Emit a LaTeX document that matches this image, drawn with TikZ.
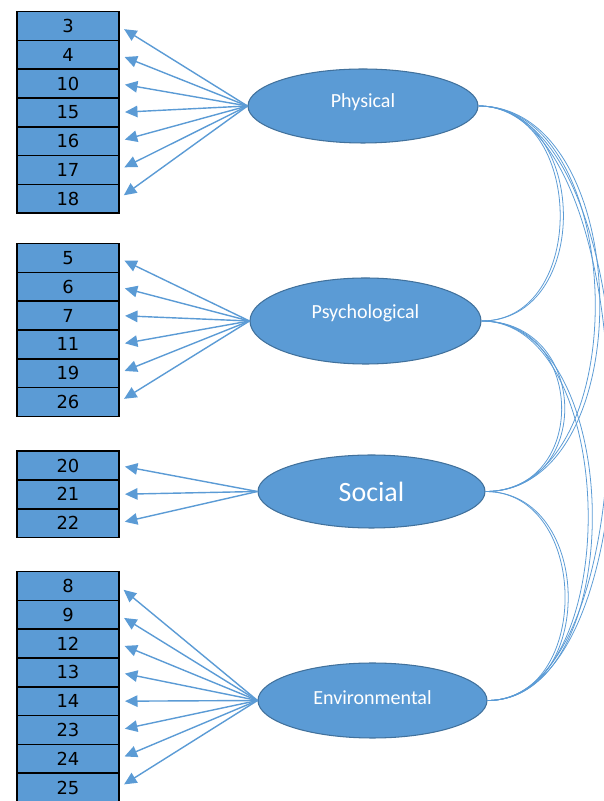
\documentclass[tikz,border=0pt]{standalone}
\usepackage{fontspec}
\setmainfont{Carlito}
\newfontfamily\numfont{DejaVu Sans}
\usetikzlibrary{positioning,chains,arrows.meta,shapes.geometric}
\definecolor{semblue}{HTML}{5B9BD5}
\definecolor{semedge}{HTML}{41719C}
\tikzset{%
  >={Triangle[length=2.5mm,width=2.3mm]},
  item/.style={rectangle,draw=black,line width=1pt,fill=semblue,minimum width=2.04cm,
    minimum height=.576cm,inner sep=0pt,outer sep=0pt,font=\numfont\fontsize{10.2}{12}\selectfont},
  factor/.style={ellipse,draw=semedge,line width=.6pt,fill=semblue,inner sep=0pt,
    text=white,font=\fontsize{11.4}{13}\selectfont},
  load/.style={draw=semblue,line width=.8pt,->,shorten >=.12cm},
  cov/.style={draw=semblue,line width=.45pt}
}

\begin{document}
\begin{tikzpicture}
	\useasboundingbox (0,0) rectangle (12.06,16.02);

	% observed items
	\begin{scope}[every node/.style={item},node distance=0pt]
	\begin{scope}[start chain=g1 going below,every node/.append style={on chain}]
	\node (i3) at (1.36,15.50) {3};
	\node (i4) {4};
	\node (i10) {10};
	\node (i15) {15};
	\node (i16) {16};
	\node (i17) {17};
	\node (i18) {18};
	\end{scope}
	\begin{scope}[start chain=g2 going below,every node/.append style={on chain}]
	\node (i5) at (1.36,10.86) {5};
	\node (i6) {6};
	\node (i7) {7};
	\node (i11) {11};
	\node (i19) {19};
	\node (i26) {26};
	\end{scope}
	\begin{scope}[start chain=g3 going below,every node/.append style={on chain}]
	\node (i20) at (1.36,6.71) {20};
	\node (i21) {21};
	\node (i22) {22};
	\end{scope}
	\begin{scope}[start chain=g4 going below,every node/.append style={on chain}]
	\node (i8) at (1.36,4.30) {8};
	\node (i9) {9};
	\node (i12) {12};
	\node (i13) {13};
	\node (i14) {14};
	\node (i23) {23};
	\node (i24) {24};
	\node (i25) {25};
	\end{scope}
	\end{scope}

	% latent factors
	\node[factor,minimum width=4.6cm,minimum height=1.48cm,text depth=.2cm] (phys) at (7.26,13.90) {Physical};
	\node[factor,minimum width=4.62cm,minimum height=1.72cm,text depth=.37cm] (psych) at (7.31,9.60) {Psychological};
	\node[factor,minimum width=4.54cm,minimum height=1.46cm,font=\fontsize{15.9}{18}\selectfont] (soc) at (7.43,6.19) {Social};
	\node[factor,minimum width=4.58cm,minimum height=1.5cm,text depth=.12cm] (env) at (7.45,2.01) {Environmental};

	% loadings
	\foreach \i in {3,4,10,15,16,17,18} \draw[load] (phys.west) -- (i\i.east);
	\foreach \i in {5,6,7,11,19,26} \draw[load] (psych.west) -- (i\i.east);
	\foreach \i in {20,21,22} \draw[load] (soc.west) -- (i\i.east);
	\foreach \i in {8,9,12,13,14,23,24,25} \draw[load] (env.west) -- (i\i.east);

	% covariances
	\foreach \s in {1,1.04} {
	\draw[cov] (phys.east) to[out=0,in=0,looseness=1.27*\s] (psych.east);
	\draw[cov] (phys.east) to[out=0,in=0,looseness=1.0*\s] (soc.east);
	\draw[cov] (phys.east) to[out=0,in=0,looseness=.72*\s] (env.east);
	\draw[cov] (psych.east) to[out=0,in=0,looseness=1.56*\s] (soc.east);
	\draw[cov] (psych.east) to[out=0,in=0,looseness=.93*\s] (env.east);
	\draw[cov] (soc.east) to[out=0,in=0,looseness=1.28*\s] (env.east);
	}
\end{tikzpicture}
\end{document}
